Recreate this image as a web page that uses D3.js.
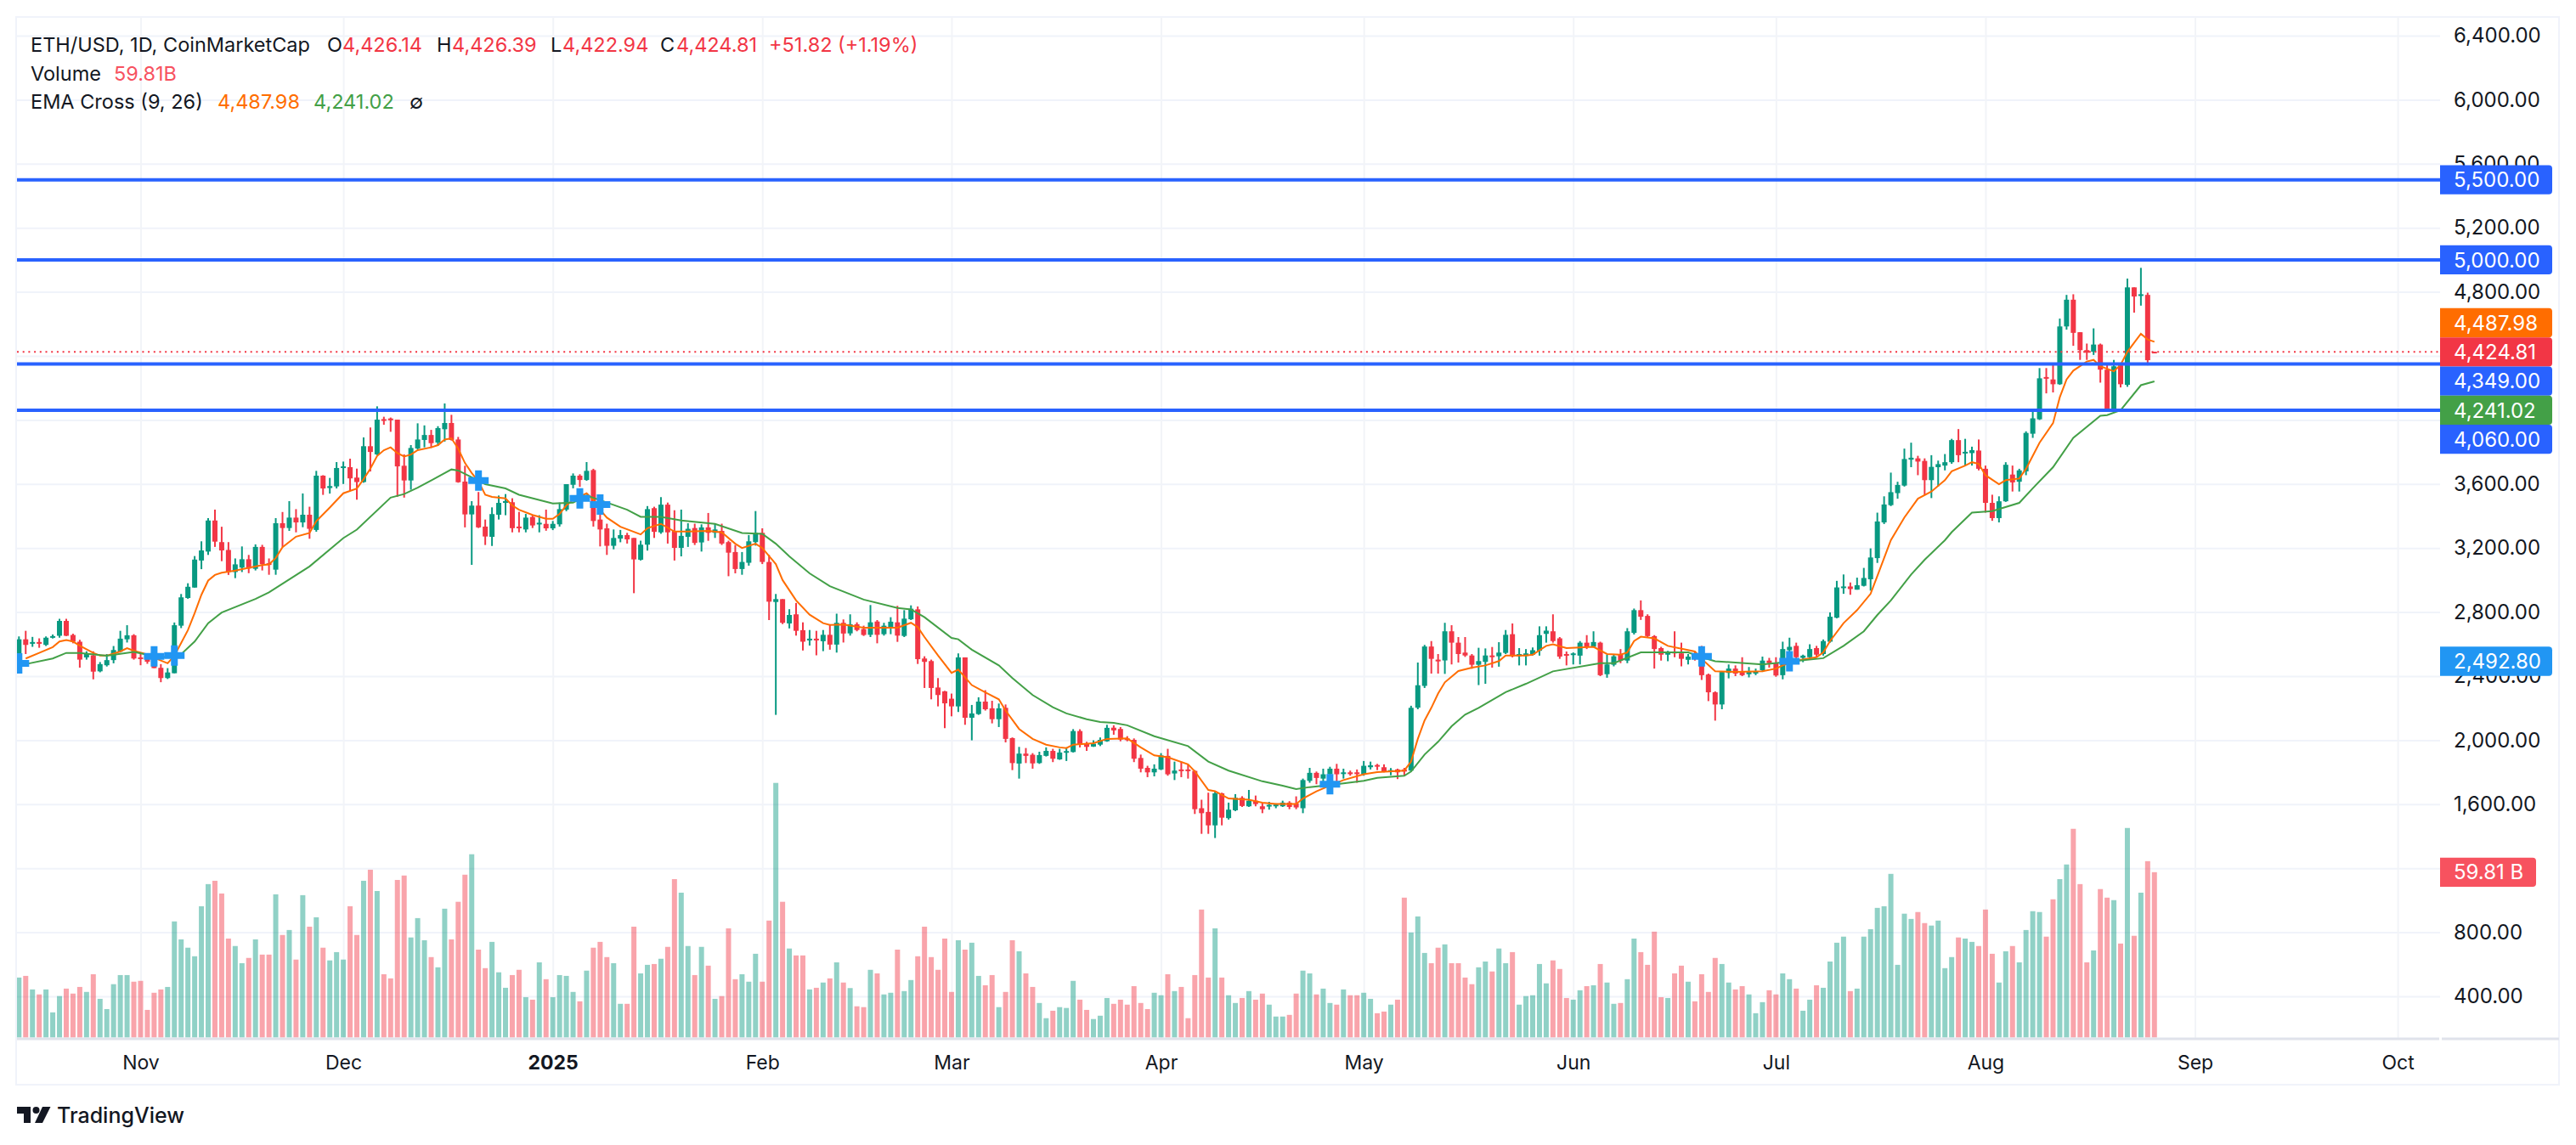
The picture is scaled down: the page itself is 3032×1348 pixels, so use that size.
<!DOCTYPE html>
<html>
<head>
<meta charset="utf-8">
<script src="https://cdn.jsdelivr.net/npm/d3@7"></script>
<style>
  html, body { margin: 0; background: #fff; }
  svg { display: block; }
  text { font-family: Inter, "Noto Sans", sans-serif; }
</style>
</head>
<body>
<script>
// daily candles, first bar is 14 Oct 2024
const opens = [
  2450,2630,2602,2613,2595,2640,2652,2745,2657,2615,
  2517,2530,2430,2468,2500,2553,2630,2655,2517,2517,
  2495,2452,2388,2418,2715,2888,2953,3122,3178,3372,
  3237,3188,3050,3078,3130,3070,3207,3105,3065,3355,
  3325,3390,3360,3408,3313,3652,3575,3585,3700,3705,
  3640,3612,3836,3785,4005,4009,4002,3714,3622,3822,
  3875,3906,3859,3942,3981,3878,3615,3410,3465,3334,
  3270,3408,3482,3486,3334,3316,3394,3348,3351,3323,
  3348,3440,3595,3652,3625,3687,3378,3323,3214,3259,
  3281,3263,3127,3221,3449,3298,3471,3307,3201,3270,
  3325,3235,3329,3295,3307,3237,3175,3069,3108,3237,
  3295,3113,2863,2881,2729,2786,2687,2623,2634,2618,
  2658,2597,2733,2667,2724,2694,2658,2741,2662,2706,
  2736,2651,2755,2817,2510,2494,2329,2305,2259,2211,
  2517,2140,2163,2241,2199,2131,2202,2013,1854,1916,
  1909,1857,1902,1933,1880,1923,1926,2057,1981,1960,
  1972,1993,2078,2070,2011,2002,1889,1827,1799,1817,
  1902,1792,1817,1817,1808,1575,1552,1468,1668,1513,
  1562,1640,1587,1622,1587,1587,1587,1587,1610,1605,
  1575,1746,1796,1760,1787,1822,1792,1799,1799,1787,
  1831,1845,1831,1804,1817,1817,1810,2203,2339,2585,
  2503,2498,2680,2609,2547,2529,2471,2489,2529,2524,
  2545,2662,2524,2526,2534,2558,2664,2680,2636,2538,
  2532,2528,2609,2583,2609,2412,2471,2534,2497,2670,
  2812,2776,2650,2575,2534,2554,2542,2502,2542,2518,
  2410,2299,2223,2420,2447,2426,2412,2416,2437,2497,
  2481,2406,2562,2589,2514,2518,2575,2538,2615,2765,
  2950,2960,2940,2964,3005,3137,3360,3468,3543,3590,
  3752,3760,3744,3624,3705,3715,3736,3874,3793,3793,
  3809,3695,3482,3387,3492,3659,3614,3679,3914,4004,
  4268,4253,4223,4584,4751,4548,4436,4426,4471,4314,
  4065,4341,4219,4828,4777,4781,4426.14];
const highs = [
  2648,2683,2645,2636,2648,2660,2758,2758,2665,2627,
  2555,2555,2488,2538,2588,2683,2718,2662,2548,2538,
  2538,2475,2450,2735,2913,2980,3150,3242,3387,3440,
  3333,3237,3135,3210,3157,3223,3220,3135,3387,3425,
  3493,3443,3541,3458,3682,3655,3638,3737,3740,3758,
  3696,3891,3953,4085,4020,4015,4002,3785,3843,3979,
  3966,3938,3961,4103,4032,3894,3714,3493,3550,3378,
  3454,3528,3537,3511,3426,3413,3405,3405,3440,3369,
  3484,3599,3666,3661,3737,3695,3502,3352,3316,3313,
  3295,3263,3246,3462,3458,3518,3484,3436,3440,3355,
  3352,3348,3419,3352,3352,3246,3219,3175,3281,3431,
  3323,3157,2913,2881,2818,2857,2736,2688,2683,2688,
  2724,2790,2754,2786,2736,2715,2844,2750,2733,2768,
  2839,2812,2842,2835,2524,2503,2388,2308,2291,2542,
  2517,2220,2268,2312,2246,2229,2223,2017,1958,1951,
  1919,1928,1955,1946,1946,1955,2069,2068,1990,1999,
  2017,2096,2093,2082,2025,2011,1910,1840,1849,1919,
  1946,1866,1866,1849,1813,1628,1672,1681,1672,1610,
  1663,1650,1689,1654,1610,1615,1605,1622,1619,1649,
  1760,1827,1804,1822,1834,1852,1822,1810,1817,1870,
  1866,1852,1849,1826,1822,1827,2215,2485,2595,2619,
  2538,2733,2718,2644,2644,2538,2577,2573,2582,2612,
  2688,2729,2575,2569,2579,2711,2711,2786,2644,2554,
  2548,2619,2656,2680,2615,2534,2534,2569,2700,2822,
  2873,2786,2656,2583,2558,2680,2609,2538,2554,2589,
  2416,2305,2430,2473,2467,2518,2457,2447,2522,2514,
  2518,2615,2640,2609,2534,2599,2589,2629,2798,2995,
  3035,2985,3015,3076,3198,3421,3523,3671,3614,3821,
  3858,3776,3760,3780,3746,3787,3882,3943,3882,3833,
  3878,3715,3533,3523,3736,3715,3695,3929,4065,4324,
  4324,4355,4633,4781,4785,4548,4477,4572,4477,4345,
  4375,4355,4883,4828,4950,4795,4426.39];
const lows = [
  2420,2538,2583,2577,2588,2635,2640,2650,2605,2453,
  2503,2380,2424,2460,2480,2548,2610,2503,2468,2477,
  2450,2362,2382,2418,2700,2883,2953,3068,3157,3207,
  3118,3032,3012,3050,3043,3060,3060,3033,3033,3207,
  3307,3298,3330,3258,3302,3532,3540,3572,3600,3555,
  3502,3608,3678,3780,3970,3926,3520,3515,3564,3815,
  3829,3825,3838,3865,3871,3608,3329,3095,3325,3219,
  3213,3378,3405,3298,3298,3298,3325,3298,3308,3312,
  3334,3430,3573,3582,3620,3334,3210,3157,3192,3236,
  3228,2918,3122,3184,3263,3289,3228,3122,3148,3207,
  3219,3178,3245,3263,3219,3024,3042,3033,3090,3215,
  3100,2750,2158,2725,2698,2653,2560,2591,2530,2556,
  2565,2547,2610,2653,2680,2651,2644,2605,2653,2662,
  2614,2644,2750,2476,2326,2255,2211,2075,2149,2176,
  2096,1999,2158,2185,2105,2082,1986,1813,1760,1857,
  1822,1852,1898,1863,1877,1870,1923,1955,1933,1958,
  1963,1990,2034,1993,1993,1863,1799,1769,1774,1813,
  1778,1751,1769,1760,1539,1415,1415,1389,1468,1504,
  1557,1583,1583,1587,1544,1566,1575,1583,1569,1569,
  1544,1734,1725,1716,1707,1743,1760,1778,1734,1778,
  1817,1813,1799,1781,1757,1778,1804,2193,2326,2416,
  2416,2414,2473,2485,2520,2446,2344,2352,2453,2459,
  2538,2517,2467,2467,2528,2528,2609,2609,2508,2467,
  2473,2473,2569,2579,2400,2390,2461,2481,2481,2660,
  2751,2644,2447,2497,2493,2518,2461,2473,2497,2376,
  2244,2122,2193,2386,2400,2400,2392,2406,2426,2453,
  2396,2380,2467,2481,2487,2502,2518,2528,2609,2761,
  2914,2908,2940,2960,2934,3107,3350,3462,3508,3584,
  3705,3655,3533,3512,3584,3685,3726,3736,3715,3715,
  3685,3421,3370,3360,3488,3553,3553,3655,3888,4000,
  4166,4172,4219,4564,4463,4375,4375,4406,4233,4065,
  4061,4203,4207,4670,4714,4341,4422.94];
const closes = [
  2630,2595,2613,2602,2640,2650,2745,2652,2615,2503,
  2542,2428,2475,2500,2563,2634,2655,2510,2510,2490,
  2450,2388,2423,2718,2892,2958,3128,3185,3372,3240,
  3185,3050,3098,3130,3072,3207,3099,3095,3355,3325,
  3390,3360,3408,3320,3652,3572,3587,3700,3710,3635,
  3612,3836,3800,4002,3998,3998,3710,3622,3825,3878,
  3906,3855,3949,3981,3875,3611,3410,3465,3329,3272,
  3412,3482,3493,3324,3324,3390,3341,3358,3323,3351,
  3443,3599,3652,3625,3682,3369,3316,3214,3263,3281,
  3254,3129,3221,3443,3301,3471,3298,3201,3276,3320,
  3232,3329,3295,3316,3228,3171,3069,3113,3242,3295,
  3113,2865,2881,2733,2782,2683,2615,2634,2623,2658,
  2597,2733,2666,2724,2688,2657,2736,2658,2715,2740,
  2653,2759,2821,2506,2489,2326,2282,2230,2211,2517,
  2140,2167,2241,2193,2131,2199,2008,1857,1916,1902,
  1855,1907,1933,1884,1923,1932,2057,1972,1958,1978,
  2002,2077,2061,2004,2004,1884,1822,1799,1822,1905,
  1787,1810,1808,1808,1569,1544,1468,1668,1516,1566,
  1640,1589,1622,1601,1569,1596,1598,1610,1583,1580,
  1751,1796,1764,1787,1822,1787,1799,1788,1788,1840,
  1843,1836,1804,1813,1799,1804,2202,2343,2585,2508,
  2492,2680,2609,2538,2529,2471,2494,2529,2520,2547,
  2658,2524,2538,2542,2562,2656,2684,2619,2522,2528,
  2542,2609,2583,2613,2406,2473,2524,2497,2680,2812,
  2771,2650,2569,2534,2554,2542,2508,2522,2508,2406,
  2299,2223,2426,2447,2416,2406,2426,2430,2497,2481,
  2404,2569,2583,2518,2528,2569,2534,2619,2771,2954,
  2960,2944,2968,3013,3141,3366,3472,3549,3594,3756,
  3764,3740,3624,3707,3724,3736,3874,3780,3801,3811,
  3695,3482,3387,3492,3720,3610,3685,3919,4010,4260,
  4260,4223,4584,4751,4544,4436,4420,4471,4314,4065,
  4335,4223,4828,4771,4785,4373,4424.81];
// volume in billions
const volumes = [
  21.7,22.3,17.4,15.6,17.4,9.1,15.0,17.7,15.9,18.3,
  16.5,22.9,14.0,10.3,19.3,22.6,22.6,20.2,20.5,10.0,
  16.2,17.4,18.3,42.0,35.5,32.5,29.4,47.5,55.5,56.7,
  52.1,35.8,33.1,26.9,28.8,35.5,30.0,30.0,51.8,37.1,
  38.9,28.2,51.5,40.1,43.5,32.5,27.9,30.9,28.2,47.5,
  37.1,56.7,60.7,53.0,22.9,21.4,57.0,58.6,36.2,43.2,
  35.2,29.1,25.4,46.6,35.5,49.1,58.9,66.3,31.8,25.1,
  34.6,23.6,18.0,22.6,24.5,14.6,13.7,27.2,21.1,14.6,
  22.6,22.3,16.5,13.1,24.2,32.5,34.6,29.1,26.9,12.2,
  12.2,40.1,23.2,26.3,26.6,28.5,32.8,57.3,52.4,33.1,
  22.6,32.8,26.0,14.0,15.0,39.5,21.1,22.9,20.2,30.3,
  20.2,42.3,92.1,49.1,32.2,29.7,29.7,17.4,18.0,19.9,
  21.4,27.2,19.9,17.9,11.3,11.0,24.5,23.2,15.6,16.2,
  31.8,16.8,20.8,29.4,40.1,29.1,24.5,35.8,16.5,35.2,
  31.8,34.3,22.3,18.9,22.6,11.0,16.5,35.2,31.2,23.2,
  18.3,12.5,7.0,9.7,11.0,10.7,20.5,13.7,10.0,6.7,
  7.9,14.3,12.2,13.7,11.9,18.6,12.5,10.3,16.2,15.3,
  22.9,16.8,18.3,7.0,22.6,46.3,21.7,39.5,21.7,15.3,
  12.5,14.3,16.8,13.7,15.9,11.9,7.6,7.6,8.2,15.9,
  24.2,23.2,15.6,17.7,12.5,11.9,17.4,15.3,15.3,16.2,
  14.0,8.8,9.4,11.9,13.7,50.6,38.0,43.8,30.6,26.9,
  32.5,33.7,26.9,26.9,21.7,19.3,25.4,27.5,23.9,32.2,
  26.9,30.9,11.9,15.0,15.3,26.6,19.6,27.9,24.8,14.3,
  13.7,17.1,18.6,18.9,26.6,19.9,12.2,12.5,21.1,35.8,
  30.9,26.3,38.3,14.6,14.3,23.2,26.0,20.2,13.1,22.9,
  16.5,28.8,26.6,19.9,17.4,18.6,15.6,8.8,12.8,17.1,
  15.6,23.2,21.1,17.7,9.7,13.7,18.9,18.0,27.5,34.3,
  36.5,16.8,17.7,36.5,39.2,46.9,47.5,59.2,26.3,44.8,
  42.9,45.4,41.4,40.5,42.3,25.1,29.1,36.2,35.8,34.6,
  33.1,46.3,30.3,19.9,31.2,33.1,27.2,38.9,45.7,45.4,
  36.5,50.0,57.3,62.6,75.5,55.5,27.2,31.5,53.7,50.6,
  49.7,34.0,75.8,36.8,52.4,63.8,59.81];

// EMA lines, read at the bars where they bend
const ema9Bars = [1,3,5,6,7,8,9,11,12,13,15,16,17,19,20,22,23,24,25,26,27,28,29,30,32,34,36,37,38,39,41,43,44,46,48,50,51,52,53,54,55,56,57,58,59,61,62,63,64,65,66,67,68,69,70,72,73,74,76,78,79,80,81,82,84,85,86,87,89,92,93,95,97,99,102,104,106,107,109,110,112,113,115,117,119,120,122,125,130,132,133,134,136,138,139,141,143,145,146,148,150,152,154,155,156,159,161,164,166,168,170,173,174,176,177,179,182,184,186,189,190,192,194,196,199,201,205,206,207,208,209,210,211,213,215,217,219,220,221,223,224,226,227,229,231,233,235,237,238,239,240,242,244,248,249,251,254,258,260,261,263,266,267,268,270,272,274,275,277,279,281,283,285,286,288,289,290,291,293,294,296,297,299,301,302,303,304,306,307,308,310,311,312,314,315,316];
const ema9Vals = [2510,2545,2581,2616,2625,2616,2590,2545,2528,2528,2554,2575,2558,2536,2515,2480,2528,2607,2687,2793,2908,2997,3032,3046,3059,3076,3094,3098,3138,3205,3271,3294,3368,3453,3542,3572,3630,3696,3775,3811,3829,3793,3772,3784,3811,3829,3843,3878,3885,3820,3731,3669,3616,3533,3519,3510,3466,3439,3407,3383,3383,3413,3466,3501,3542,3501,3439,3390,3333,3285,3324,3351,3303,3303,3307,3298,3227,3200,3227,3200,3100,3000,2873,2784,2731,2720,2722,2703,2703,2733,2706,2644,2529,2420,2441,2344,2299,2255,2185,2070,2008,1972,1955,1951,1972,1981,2008,2011,1955,1905,1893,1849,1805,1689,1681,1636,1628,1610,1601,1601,1636,1681,1716,1751,1787,1801,1810,1866,2008,2123,2202,2291,2361,2432,2453,2467,2494,2529,2529,2529,2534,2589,2599,2575,2579,2583,2538,2534,2548,2619,2646,2636,2589,2554,2508,2430,2426,2430,2447,2467,2497,2518,2548,2619,2731,2812,2914,3025,3249,3391,3508,3553,3624,3679,3715,3736,3726,3655,3598,3624,3634,3695,3858,3980,4142,4253,4308,4365,4375,4335,4304,4345,4426,4538,4503,4487.98];
const ema26Bars = [1,5,7,9,13,17,21,24,26,28,30,35,37,43,48,50,55,57,59,61,64,65,69,72,74,79,82,84,87,90,92,95,98,103,107,110,112,114,117,120,125,130,132,134,138,139,141,145,147,150,153,155,158,160,162,164,168,173,176,179,184,187,189,191,195,199,201,205,206,208,210,212,214,216,220,223,227,234,236,240,247,249,251,258,267,270,273,275,277,280,282,285,286,289,292,296,298,301,304,308,309,311,314,316];
const ema26Vals = [2475,2510,2545,2545,2528,2551,2515,2537,2616,2731,2797,2882,2923,3085,3262,3315,3515,3537,3577,3622,3691,3684,3599,3572,3533,3478,3484,3528,3484,3439,3395,3395,3372,3351,3294,3289,3227,3148,3042,2962,2878,2826,2817,2768,2639,2630,2565,2467,2388,2282,2206,2167,2131,2114,2108,2093,2025,1963,1866,1810,1743,1716,1695,1707,1725,1746,1765,1778,1804,1910,1990,2087,2160,2202,2300,2352,2430,2481,2481,2548,2548,2518,2493,2473,2512,2589,2680,2782,2873,3035,3127,3249,3299,3421,3431,3482,3573,3705,3888,4026,4030,4061,4217,4241.02];

// blue crosses where the two EMAs meet
const crossBars = [0,20,23,68,83,86,194,249,262];
const crossVals = [2480,2524,2528,3622,3510,3471,1725,2524,2492.8];

const priceTicks = [400,800,1200,1600,2000,2400,2800,3200,3600,4000,4400,4800,5200,5600,6000,6400];
const monthBars = [18,48,79,110,138,169,199,230,260,291,322,352];
const monthLabels = ["Nov","Dec","2025","Feb","Mar","Apr","May","Jun","Jul","Aug","Sep","Oct"];

// horizontal drawings
const levels = [5500,5000,4349,4060];
const lastPrice = 4424.81;
const lastVolume = 59.81;

// price axis tags, top to bottom
const tagVals = [5500,5000,4487.98,4424.81,4349,4241.02,4060];
const tagColors = ["#2962ff","#2962ff","#ff6d00","#f23645","#2962ff","#43a047","#2962ff"];

const UP = "#089981", DOWN = "#f23645", INK = "#131722", GRID = "#f0f3fa";
const left = 20, right = 2872, outerRight = 3012, paneBottom = 1222, frameBottom = 1277;

const svg = d3.select("body").append("svg").attr("width", 3032).attr("height", 1348);

const x = d3.scaleLinear().domain([-0.29, 358.27]).range([left, right]);
const y = d3.scaleLinear().domain([400, 6400]).range([1173, 42]);
const yVol = d3.scaleLinear().domain([0, 100]).range([1221.5, 896]);

svg.append("defs").append("clipPath").attr("id", "pane")
  .append("rect").attr("x", left).attr("y", 20).attr("width", right - left).attr("height", paneBottom - 20);

// outer frame
svg.append("rect").attr("x", 19).attr("y", 20).attr("width", outerRight - 19).attr("height", frameBottom - 20)
  .attr("fill", "none").attr("stroke", GRID).attr("stroke-width", 2);

// grid
const yGrid = svg.append("g").attr("transform", "translate(" + left + ",0)")
  .call(d3.axisRight(y).tickValues(priceTicks).tickSize(right - left).tickFormat(""));
yGrid.select(".domain").remove();
yGrid.selectAll("line").attr("stroke", GRID).attr("stroke-width", 2);

const xGrid = svg.append("g").attr("transform", "translate(0,20)")
  .call(d3.axisBottom(x).tickValues(monthBars).tickSize(paneBottom - 20).tickFormat(""));
xGrid.select(".domain").remove();
xGrid.selectAll("line").attr("stroke", "#f2f4f8").attr("stroke-width", 2);

const pane = svg.append("g").attr("clip-path", "url(#pane)");

// volume
pane.append("g").selectAll("rect").data(volumes).join("rect")
  .attr("x", (d, i) => x(i) - 3)
  .attr("width", 6)
  .attr("y", d => yVol(d))
  .attr("height", d => yVol(0) - yVol(d))
  .attr("fill", (d, i) => closes[i] >= opens[i] ? UP : DOWN)
  .attr("fill-opacity", 0.45);

// candles
const candles = pane.append("g").selectAll("g").data(opens).join("g")
  .attr("fill", (d, i) => closes[i] >= opens[i] ? UP : DOWN)
  .attr("stroke", (d, i) => closes[i] >= opens[i] ? UP : DOWN);
candles.append("line")
  .attr("x1", (d, i) => x(i)).attr("x2", (d, i) => x(i))
  .attr("y1", (d, i) => y(highs[i])).attr("y2", (d, i) => y(lows[i]))
  .attr("stroke-width", 2);
candles.append("rect")
  .attr("stroke", "none")
  .attr("x", (d, i) => x(i) - 3)
  .attr("width", 6)
  .attr("y", (d, i) => y(Math.max(opens[i], closes[i])))
  .attr("height", (d, i) => Math.max(2, Math.abs(y(opens[i]) - y(closes[i]))));

// last price dotted line
pane.append("line").attr("x1", left).attr("x2", right)
  .attr("y1", y(lastPrice)).attr("y2", y(lastPrice))
  .attr("stroke", DOWN).attr("stroke-width", 2).attr("stroke-dasharray", "2 4.7");

// EMA lines
const emaLine = d3.line().x(d => x(d[0])).y(d => y(d[1]));
pane.append("path").datum(d3.zip(ema9Bars, ema9Vals)).attr("d", emaLine)
  .attr("fill", "none").attr("stroke", "#ff6d00").attr("stroke-width", 2);
pane.append("path").datum(d3.zip(ema26Bars, ema26Vals)).attr("d", emaLine)
  .attr("fill", "none").attr("stroke", "#43a047").attr("stroke-width", 2);

// crosses
pane.append("g").selectAll("path").data(crossBars).join("path")
  .attr("d", d3.symbol(d3.symbolCross, 320))
  .attr("transform", (d, i) => "translate(" + x(d) + "," + y(crossVals[i]) + ")")
  .attr("fill", "#2196f3");

// horizontal levels
pane.append("g").selectAll("line").data(levels).join("line")
  .attr("x1", left).attr("x2", right)
  .attr("y1", d => y(d)).attr("y2", d => y(d))
  .attr("stroke", "#2962ff").attr("stroke-width", 4);

// pane bottom rule
svg.append("line").attr("x1", left).attr("x2", right - 1).attr("y1", paneBottom + 1).attr("y2", paneBottom + 1)
  .attr("stroke", "#e0e3eb").attr("stroke-width", 3);
svg.append("line").attr("x1", right + 2).attr("x2", outerRight).attr("y1", paneBottom + 1).attr("y2", paneBottom + 1)
  .attr("stroke", "#e0e3eb").attr("stroke-width", 3);

// price axis
const yAxis = svg.append("g").attr("transform", "translate(" + right + ",0)")
  .call(d3.axisRight(y).tickValues(priceTicks).tickSize(0).tickPadding(16).tickFormat(d3.format(",.2f")));
yAxis.select(".domain").remove();
yAxis.selectAll("text").attr("font-size", 24).attr("font-family", "Inter").attr("fill", INK);

// time axis
const xAxis = svg.append("g").attr("transform", "translate(0," + paneBottom + ")")
  .call(d3.axisBottom(x).tickValues(monthBars).tickSize(0).tickPadding(21)
    .tickFormat((d, i) => monthLabels[i]));
xAxis.select(".domain").remove();
xAxis.selectAll("text").attr("font-size", 23).attr("font-family", "Inter").attr("fill", INK)
  .attr("font-weight", (d, i) => monthLabels[i] === "2025" ? 700 : 400);

// price tags, stacked so they do not overlap around the last price
const TAG_H = 34.3;
const pin = tagVals.indexOf(lastPrice);
const tagY = tagVals.map(v => y(v));
for (let i = pin - 1; i >= 0; i--) tagY[i] = Math.min(tagY[i], tagY[i + 1] - TAG_H);
for (let i = pin + 1; i < tagY.length; i++) tagY[i] = Math.max(tagY[i], tagY[i - 1] + TAG_H);

function tag(cy, w, fill, label) {
  const h = TAG_H, r = 4;
  svg.append("path")
    .attr("d", `M${right},${cy - h / 2}H${right + w - r}q${r},0 ${r},${r}V${cy + h / 2 - r}q0,${r} ${-r},${r}H${right}Z`)
    .attr("fill", fill);
  svg.append("text").attr("x", right + 16).attr("y", cy).attr("dy", "0.36em")
    .attr("font-size", 24).attr("fill", "#fff").text(label);
}
tag(y(2492.8), 132, "#2196f3", d3.format(",.2f")(2492.8));
tag(yVol(lastVolume), 113, "#f7525f", "59.81 B");
tagVals.forEach((v, i) => tag(tagY[i], 132, tagColors[i], d3.format(",.2f")(v)));

// legend
const legend = [
  [36, 53, "ETH/USD, 1D, CoinMarketCap", INK],
  [385, 53, "O", INK], [403, 53, "4,426.14", DOWN],
  [514, 53, "H", INK], [532, 53, "4,426.39", DOWN],
  [648, 53, "L", INK], [662, 53, "4,422.94", DOWN],
  [777, 53, "C", INK], [796, 53, "4,424.81", DOWN],
  [905, 53, "+51.82 (+1.19%)", DOWN],
  [36, 87, "Volume", INK], [134, 87, "59.81B", "#f7525f"],
  [36, 120, "EMA Cross (9, 26)", INK], [256, 120, "4,487.98", "#ff6d00"],
  [369, 120, "4,241.02", "#43a047"], [482, 120, "∅", INK]
];
svg.append("g").selectAll("text").data(legend).join("text")
  .attr("x", d => d[0]).attr("y", d => d[1]).attr("dy", "0.36em")
  .attr("font-size", 23.5).attr("fill", d => d[3]).text(d => d[2]);

// TradingView logo
const logo = svg.append("g").attr("fill", INK);
logo.append("path").attr("d", "M20,1303H36V1322H28V1311H20Z");
logo.append("circle").attr("cx", 42.5).attr("cy", 1307).attr("r", 4);
logo.append("path").attr("d", "M50,1303H59.5L50,1322H41Z");
logo.append("text").attr("x", 67).attr("y", 1313).attr("dy", "0.36em")
  .attr("font-size", 25).attr("font-weight", 500).attr("fill", INK).text("TradingView");
</script>
</body>
</html>
